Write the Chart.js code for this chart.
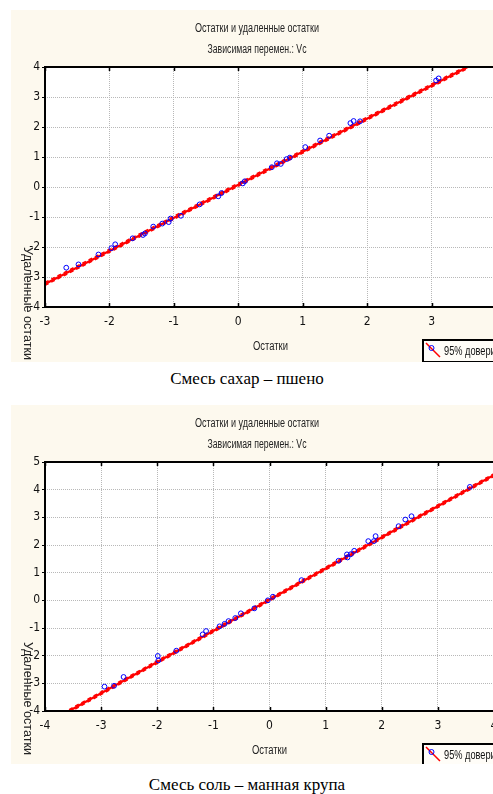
<!DOCTYPE html>
<html>
<head>
<meta charset="utf-8">
<script src="https://cdn.jsdelivr.net/npm/chart.js@4.4.1/dist/chart.umd.min.js"></script>
<style>
html, body { margin: 0; padding: 0; overflow: hidden; background: #fff; }
body { position: relative; width: 493px; height: 794px; }
canvas { position: absolute; left: 11px; background: #fdf9ee; }
.cap { position: absolute; left: 0; width: 494px; text-align: center; font: 17px "Liberation Serif", "Times New Roman", serif; line-height: 18px; color: #000; }
</style>
</head>
<body>
<canvas id="sugar" width="509" height="352" style="top:10px"></canvas>
<div class="cap" style="top:370px">Смесь сахар – пшено</div>
<canvas id="salt" width="509" height="359" style="top:405px"></canvas>
<div class="cap" style="top:776px">Смесь соль – манная крупа</div>
<script>
const titleText = 'Остатки и удаленные остатки'
const subtitleText = 'Зависимая перемен.: Vc'
const xTitle = 'Остатки'
const yTitle = 'Удаленные остатки'
const legendLabel = '95% доверит. интервал'

// смесь сахар - пшено
const sugarX = [-2.67, -2.48, -2.17, -1.97, -1.91, -1.64, -1.48, -1.45, -1.32, -1.18, -1.08, -1.05, -0.89, -0.60, -0.31, -0.26,
    0.07, 0.10, 0.52, 0.60, 0.66, 0.75, 0.80, 1.04, 1.27, 1.41, 1.74, 1.79, 1.89, 3.07, 3.11]
const sugarY = [-2.69, -2.58, -2.25, -2.04, -1.91, -1.71, -1.60, -1.55, -1.32, -1.22, -1.17, -1.05, -0.96, -0.58, -0.31, -0.20,
    0.12, 0.19, 0.66, 0.79, 0.77, 0.93, 0.98, 1.33, 1.55, 1.71, 2.13, 2.20, 2.19, 3.55, 3.62]
const sugarFitX = [-3.0, 3.56]
const sugarFitY = [-3.23, 4.0]
const sugarUpperY = [-3.18, 4.05]
const sugarLowerY = [-3.28, 3.95]
const sugarXRange = [-3, 4]
const sugarYRange = [-4, 4]

// смесь соль - манная крупа
const saltX = [-2.94, -2.77, -2.60, -1.99, -1.98, -1.66, -1.19, -1.13, -0.89, -0.80, -0.73, -0.61, -0.51, -0.27, -0.03, 0.06,
    0.57, 1.23, 1.38, 1.39, 1.45, 1.51, 1.76, 1.86, 1.89, 2.30, 2.42, 2.53, 3.57]
const saltY = [-3.12, -3.09, -2.77, -2.01, -2.17, -1.82, -1.23, -1.11, -0.94, -0.85, -0.75, -0.64, -0.47, -0.29, 0.0, 0.13,
    0.73, 1.43, 1.66, 1.55, 1.67, 1.79, 2.14, 2.14, 2.32, 2.68, 2.92, 3.04, 4.10]
const saltFitX = [-3.57, 4.0]
const saltFitY = [-4.0, 4.53]
const saltUpperY = [-3.95, 4.58]
const saltLowerY = [-4.05, 4.48]
const saltXRange = [-4, 4]
const saltYRange = [-4, 5]

const family = '"Liberation Sans", Arial, sans-serif'
const tickFamily = '"DejaVu Sans Condensed", "Liberation Sans", sans-serif'

const toPoints = (xs, ys) => xs.map((x, i) => ({ x: x, y: ys[i] }))

// statistica uses a narrow font, squeeze the text to the same width
function narrowText(ctx, text, x, y, width, align) {
    const w = ctx.measureText(text).width
    const sx = width / w
    ctx.save()
    ctx.translate(x, y)
    ctx.scale(sx, 1)
    ctx.textAlign = align
    ctx.fillText(text, 0, 0)
    ctx.restore()
}

const frame = {
    id: 'frame',
    beforeDraw(chart) {
        const { ctx, chartArea: a } = chart
        ctx.save()
        ctx.fillStyle = '#fff'
        ctx.fillRect(a.left, a.top, a.right - a.left, a.bottom - a.top)
        ctx.restore()
    },
    afterDraw(chart) {
        const { ctx, chartArea: a } = chart
        const xs = chart.scales.x
        ctx.save()
        ctx.strokeStyle = '#000'
        ctx.lineWidth = 2
        ctx.strokeRect(a.left, a.top, a.right - a.left, a.bottom - a.top)
        ctx.lineWidth = 1.5
        xs.ticks.forEach(t => {
            const px = Math.round(xs.getPixelForValue(t.value)) + 0.5
            ctx.beginPath()
            ctx.moveTo(px, a.top); ctx.lineTo(px, a.top + 4)
            ctx.moveTo(px, a.bottom); ctx.lineTo(px, a.bottom - 4)
            ctx.stroke()
        })

        ctx.fillStyle = '#222'
        ctx.font = '12px ' + family
        ctx.textBaseline = 'middle'
        narrowText(ctx, titleText, 246, a.top - 38, 124, 'center')
        narrowText(ctx, subtitleText, 246, a.top - 17, 99, 'center')
        narrowText(ctx, xTitle, (a.left + a.right) / 2, a.bottom + 40, 35, 'center')

        ctx.save()
        ctx.translate(a.left - 18, a.top + 180)
        ctx.rotate(Math.PI / 2)
        narrowText(ctx, yTitle, 0, 0, 113, 'left')
        ctx.restore()

        // legend
        const bx = 412, by = a.bottom + 33
        ctx.fillStyle = '#fffdf8'
        ctx.fillRect(bx, by, 130, 22)
        ctx.strokeStyle = '#000'
        ctx.lineWidth = 2
        ctx.strokeRect(bx, by, 130, 22)
        ctx.strokeStyle = '#ff0000'
        ctx.lineWidth = 1.5
        ctx.beginPath()
        ctx.moveTo(bx + 3, by + 3); ctx.lineTo(bx + 17, by + 17)
        ctx.stroke()
        ctx.strokeStyle = '#0000ff'
        ctx.lineWidth = 1
        ctx.beginPath()
        ctx.arc(bx + 8.5, by + 8, 2.5, 0, Math.PI * 2)
        ctx.stroke()
        ctx.fillStyle = '#111'
        narrowText(ctx, legendLabel, bx + 21, by + 12, 100, 'left')
        ctx.restore()
    }
}

function buildChart(id, xs, ys, fitX, fitY, upY, loY, xRange, yRange, bottomPad, rightPad) {
    const fitLine = (yv, width, dash) => ({
        data: toPoints(fitX, yv),
        showLine: true,
        borderColor: '#ff0000',
        borderWidth: width,
        borderDash: dash,
        pointRadius: 0
    })
    return new Chart(document.getElementById(id), {
        type: 'scatter',
        data: {
            datasets: [
                {
                    data: toPoints(xs, ys),
                    borderColor: '#0000ff',
                    backgroundColor: 'rgba(0,0,0,0)',
                    borderWidth: 1,
                    pointRadius: 2.4
                },
                fitLine(fitY, 2.2, []),
                fitLine(upY, 1.5, [4, 3]),
                fitLine(loY, 1.5, [4, 3])
            ]
        },
        options: {
            responsive: false,
            animation: false,
            layout: { padding: { top: 57, left: 0, right: rightPad, bottom: bottomPad } },
            plugins: { legend: { display: false }, tooltip: { enabled: false } },
            scales: {
                x: {
                    type: 'linear',
                    min: xRange[0],
                    max: xRange[1],
                    afterFit: s => { s.height = 30 },
                    ticks: { stepSize: 1, color: '#111', padding: 8, font: { family: tickFamily, size: 12 } },
                    grid: { color: '#b8b8b8', drawTicks: false },
                    border: { display: false, dash: [1, 1] }
                },
                y: {
                    min: yRange[0],
                    max: yRange[1],
                    afterFit: s => { s.width = 34 },
                    ticks: { stepSize: 1, color: '#111', padding: 2, font: { family: tickFamily, size: 12 } },
                    grid: { color: '#b8b8b8', tickColor: '#000', tickLength: 3 },
                    border: { display: false, dash: [1, 1] }
                }
            }
        },
        plugins: [frame]
    })
}

buildChart('sugar', sugarX, sugarY, sugarFitX, sugarFitY, sugarUpperY, sugarLowerY, sugarXRange, sugarYRange, 25, 24)
buildChart('salt', saltX, saltY, saltFitX, saltFitY, saltUpperY, saltLowerY, saltXRange, saltYRange, 23, 26)
</script>
</body>
</html>
